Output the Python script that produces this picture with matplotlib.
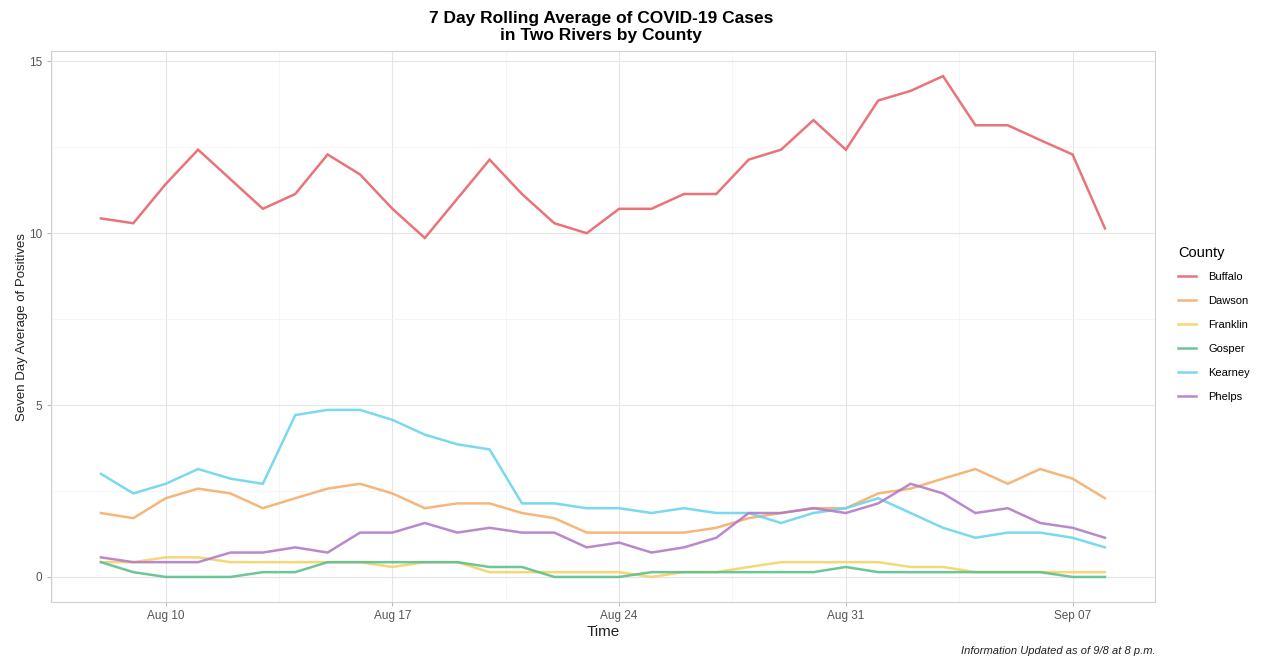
import matplotlib
matplotlib.use("Agg")
import matplotlib.pyplot as plt
import matplotlib.dates as mdates
import numpy as np
import pandas as pd

plt.rcParams['font.family'] = ['Liberation Sans', 'DejaVu Sans']

dates = pd.date_range('2020-08-08', periods=32, freq='D')

counties = ['Buffalo', 'Dawson', 'Franklin', 'Gosper', 'Kearney', 'Phelps']
colors = ['#E8646C', '#F6AE6C', '#F6D267', '#5DC08D', '#6CD4EE', '#B27CC6']

buffalo = [10.43, 10.29, 11.43, 12.43, 11.57, 10.71, 11.14, 12.29, 11.71, 10.71,
           9.86, 11.0, 12.14, 11.14, 10.29, 10.0, 10.71, 10.71, 11.14, 11.14,
           12.14, 12.43, 13.29, 12.43, 13.86, 14.14, 14.57, 13.14, 13.14, 12.71,
           12.29, 10.14]
dawson = [1.86, 1.71, 2.29, 2.57, 2.43, 2.0, 2.29, 2.57, 2.71, 2.43,
          2.0, 2.14, 2.14, 1.86, 1.71, 1.29, 1.29, 1.29, 1.29, 1.43,
          1.71, 1.86, 2.0, 2.0, 2.43, 2.57, 2.86, 3.14, 2.71, 3.14,
          2.86, 2.29]
franklin = [0.43, 0.43, 0.57, 0.57, 0.43, 0.43, 0.43, 0.43, 0.43, 0.29,
            0.43, 0.43, 0.14, 0.14, 0.14, 0.14, 0.14, 0.0, 0.14, 0.14,
            0.29, 0.43, 0.43, 0.43, 0.43, 0.29, 0.29, 0.14, 0.14, 0.14,
            0.14, 0.14]
gosper = [0.43, 0.14, 0.0, 0.0, 0.0, 0.14, 0.14, 0.43, 0.43, 0.43,
          0.43, 0.43, 0.29, 0.29, 0.0, 0.0, 0.0, 0.14, 0.14, 0.14,
          0.14, 0.14, 0.14, 0.29, 0.14, 0.14, 0.14, 0.14, 0.14, 0.14,
          0.0, 0.0]
kearney = [3.0, 2.43, 2.71, 3.14, 2.86, 2.71, 4.71, 4.86, 4.86, 4.57,
           4.14, 3.86, 3.71, 2.14, 2.14, 2.0, 2.0, 1.86, 2.0, 1.86,
           1.86, 1.57, 1.86, 2.0, 2.29, 1.86, 1.43, 1.14, 1.29, 1.29,
           1.14, 0.86]
phelps = [0.57, 0.43, 0.43, 0.43, 0.71, 0.71, 0.86, 0.71, 1.29, 1.29,
          1.57, 1.29, 1.43, 1.29, 1.29, 0.86, 1.0, 0.71, 0.86, 1.14,
          1.86, 1.86, 2.0, 1.86, 2.14, 2.71, 2.43, 1.86, 2.0, 1.57,
          1.43, 1.14]

series = [buffalo, dawson, franklin, gosper, kearney, phelps]

fig = plt.figure(figsize=(12.68, 6.59), dpi=100)
ax = fig.add_axes([0.040, 0.0865, 0.871, 0.836])

for name, vals, c in zip(counties, series, colors):
    ax.plot(dates, vals, color=c, lw=1.8, alpha=0.9, label=name,
            solid_joinstyle='miter')

# ggplot-like expansion
x0 = mdates.date2num(dates[0])
x1 = mdates.date2num(dates[-1])
pad = (x1 - x0) * 0.05
ax.set_xlim(x0 - pad, x1 + pad)
ymax = max(buffalo)
ax.set_ylim(-ymax * 0.05, ymax * 1.05)

ax.set_yticks([0, 5, 10, 15])
ax.set_yticks([2.5, 7.5, 12.5], minor=True)
major_dates = pd.to_datetime(['2020-08-10', '2020-08-17', '2020-08-24',
                              '2020-08-31', '2020-09-07'])
ax.set_xticks(major_dates)
ax.set_xticklabels(['Aug 10', 'Aug 17', 'Aug 24', 'Aug 31', 'Sep 07'])
minor_x = [mdates.date2num(d) + 3.5 for d in major_dates[:-1]]
minor_x = [mdates.date2num(major_dates[0]) - 3.5] + minor_x
ax.set_xticks(minor_x, minor=True)

ax.grid(which='major', color='#E5E5E5', lw=0.8)
ax.grid(which='minor', color='#F2F2F2', lw=0.5)
ax.set_axisbelow(True)
for s in ax.spines.values():
    s.set_color('#D0D0D0')
    s.set_linewidth(0.8)
ax.tick_params(which='major', length=3, color='#BBBBBB', labelsize=8.5,
               labelcolor='#555555', pad=3)
ax.tick_params(which='minor', length=0)

ax.set_xlabel('Time', fontsize=11, color='#222222', labelpad=2)
ax.set_ylabel('Seven Day Average of Positives', fontsize=9.5, color='#222222',
              labelpad=1)

fig.text(0.474, 0.984, '7 Day Rolling Average of COVID-19 Cases\nin Two Rivers by County',
         ha='center', va='top', fontsize=12.5, fontweight='bold',
         linespacing=1.2)

fig.text(0.911, 0.005, 'Information Updated as of 9/8 at 8 p.m.',
         ha='right', va='bottom', fontsize=8, style='italic', color='#222222')

leg = ax.legend(title='County', loc='upper left', bbox_to_anchor=(1.012, 0.665),
                frameon=False, fontsize=8, title_fontsize=10.5,
                handlelength=1.6, labelspacing=1.25, borderaxespad=0.5,
                handletextpad=1.1)
leg._legend_box.align = 'left'
leg._legend_box.sep = 9

fig.savefig('out.png', dpi=100)
